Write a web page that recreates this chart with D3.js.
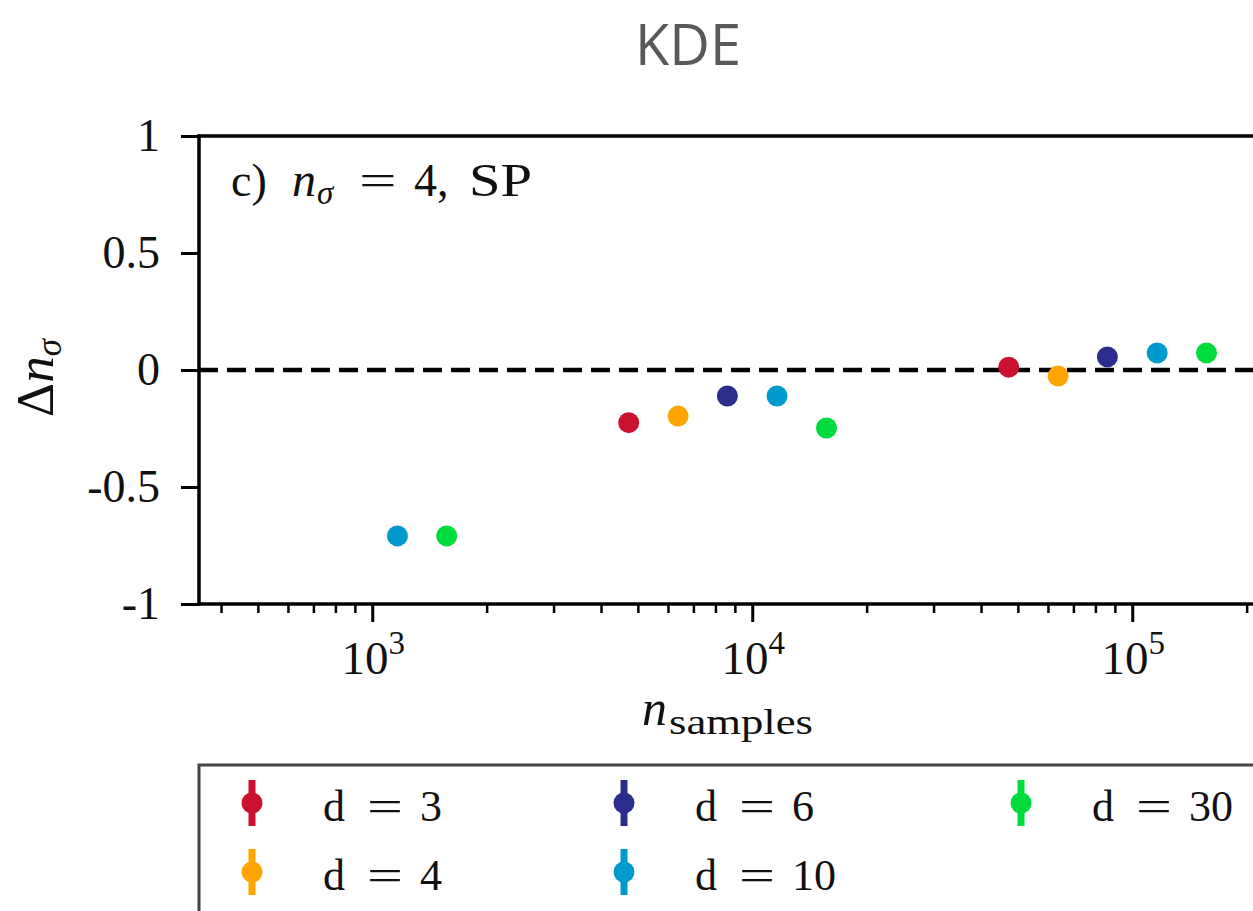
<!DOCTYPE html>
<html>
<head>
<meta charset="utf-8">
<script src="https://cdn.jsdelivr.net/npm/d3@7"></script>
<style>
  html, body { margin: 0; padding: 0; background: #fff; overflow: hidden; }
  svg { display: block; }
</style>
</head>
<body>
<script>
// ---- data ----
const dims = [3, 4, 6, 10, 30];
const seriesColors = ["#ca1230", "#ffa500", "#2b2d8c", "#009bcc", "#00dc3c"];
const samplesD3 = [4730, 47300];
const valuesD3 = [-0.225, 0.012];
const samplesD4 = [6380, 63800];
const valuesD4 = [-0.197, -0.026];
const samplesD6 = [8600, 86000];
const valuesD6 = [-0.111, 0.056];
const samplesD10 = [1165, 11620, 116300];
const valuesD10 = [-0.709, -0.111, 0.073];
const samplesD30 = [1570, 15680, 156800];
const valuesD30 = [-0.709, -0.248, 0.073];
const yTicks = [-1, -0.5, 0, 0.5, 1];
const yTickLabels = ["-1", "-0.5", "0", "0.5", "1"];
const xMajorTicks = [1e3, 1e4, 1e5];
const xMajorExps = ["3", "4", "5"];

const seriesSamples = [samplesD3, samplesD4, samplesD6, samplesD10, samplesD30];
const seriesValues = [valuesD3, valuesD4, valuesD6, valuesD10, valuesD30];

// ---- layout ----
const W = 1253, H = 911;
const plotLeft = 199, plotTop = 136, plotBottom = 604;
const serif = "'Liberation Serif', 'Times New Roman', serif";

const svg = d3.select("body").append("svg").attr("width", W).attr("height", H);

const x = d3.scaleLog().domain([350, 4e5]).range([plotLeft, plotLeft + (Math.log10(4e5) - Math.log10(350)) * 380]);
const y = d3.scaleLinear().domain([-1, 1]).range([plotBottom, plotTop]);
const plotRight = x.range()[1];

// helper: a wide, thin "=" sign like the LaTeX one
function wideEquals(parent, px, py, size, scaleX) {
  parent.append("text").attr("transform", `translate(${px},${py}) scale(${scaleX},1)`)
    .attr("font-family", serif).attr("font-size", size).attr("fill", "#111").text("=");
}

// title
svg.append("text").attr("x", 688).attr("y", 65).attr("text-anchor", "middle")
  .attr("font-family", "'Open Sans', 'Noto Sans', sans-serif").attr("font-size", 56)
  .attr("fill", "#595959").text("KDE");

// zero dashed line
svg.append("line").attr("x1", plotLeft).attr("x2", plotRight).attr("y1", y(0)).attr("y2", y(0))
  .attr("stroke", "#000").attr("stroke-width", 4.5).attr("stroke-dasharray", "19,9");

// y axis
const yAxis = d3.axisLeft(y).tickValues(yTicks).tickSize(18).tickPadding(21)
  .tickFormat((d, i) => yTickLabels[i]);
const gy = svg.append("g").attr("transform", `translate(${plotLeft},0)`).call(yAxis);
gy.select(".domain").remove();
gy.selectAll(".tick line").attr("stroke", "#000").attr("stroke-width", 3);
gy.selectAll(".tick text").attr("font-family", serif).attr("font-size", 46).attr("fill", "#111");

// x axis major
const xAxis = d3.axisBottom(x).tickValues(xMajorTicks).tickSize(18).tickFormat("");
const gx = svg.append("g").attr("transform", `translate(0,${plotBottom})`).call(xAxis);
gx.select(".domain").remove();
gx.selectAll(".tick line").attr("stroke", "#000").attr("stroke-width", 3);
// minor ticks
const minorTicks = [];
for (let e = 2; e <= 5; e++) for (let m = 2; m <= 9; m++) {
  const v = m * Math.pow(10, e);
  if (v >= x.domain()[0] && v <= x.domain()[1]) minorTicks.push(v);
}
const xMinor = d3.axisBottom(x).tickValues(minorTicks).tickSize(9).tickFormat("");
const gxm = svg.append("g").attr("transform", `translate(0,${plotBottom})`).call(xMinor);
gxm.select(".domain").remove();
gxm.selectAll(".tick line").attr("stroke", "#000").attr("stroke-width", 2.5);
// major labels with superscripts
xMajorTicks.forEach((v, i) => {
  const t = svg.append("text").attr("x", x(v) + 1).attr("y", 674).attr("text-anchor", "middle")
    .attr("font-family", serif).attr("fill", "#111");
  t.append("tspan").attr("font-size", 47).text("10");
  t.append("tspan").attr("font-size", 33).attr("dy", -20).text(xMajorExps[i]);
});

// spines
svg.append("line").attr("x1", plotLeft).attr("x2", plotLeft).attr("y1", plotTop - 1.5).attr("y2", plotBottom + 1.5)
  .attr("stroke", "#000").attr("stroke-width", 3.5);
svg.append("line").attr("x1", plotLeft - 1.5).attr("x2", plotRight).attr("y1", plotBottom).attr("y2", plotBottom)
  .attr("stroke", "#000").attr("stroke-width", 3.5);
svg.append("line").attr("x1", plotLeft - 1.5).attr("x2", plotRight).attr("y1", plotTop).attr("y2", plotTop)
  .attr("stroke", "#000").attr("stroke-width", 3.5);

// points
dims.forEach((d, si) => {
  svg.append("g").selectAll("circle")
    .data(seriesSamples[si].map((s, k) => [s, seriesValues[si][k]]))
    .join("circle")
    .attr("cx", p => x(p[0])).attr("cy", p => y(p[1])).attr("r", 10.5)
    .attr("fill", seriesColors[si]);
});

// annotation
const ax0 = 231, ay0 = 196;
const ann = svg.append("text").attr("y", ay0).attr("font-family", serif)
  .attr("font-size", 46).attr("fill", "#111");
ann.append("tspan").attr("x", ax0).text("c)");
ann.append("tspan").attr("x", ax0 + 61).attr("font-style", "italic").attr("font-size", 48).text("n");
ann.append("tspan").attr("x", ax0 + 86).attr("y", ay0 + 8).attr("font-style", "italic").attr("font-size", 33).text("σ");
ann.append("tspan").attr("x", ax0 + 183).attr("y", ay0).text("4,");
ann.append("tspan").attr("x", ax0 + 238).attr("textLength", 63).attr("lengthAdjust", "spacingAndGlyphs").text("SP");
wideEquals(svg, ax0 + 128, ay0, 46, 1.45);

// y label
const yl = svg.append("text").attr("transform", "translate(53,378) rotate(-90)")
  .attr("text-anchor", "middle").attr("font-family", serif).attr("font-size", 53).attr("fill", "#111");
yl.append("tspan").text("Δ");
yl.append("tspan").attr("font-style", "italic").text("n");
yl.append("tspan").attr("font-style", "italic").attr("font-size", 35).attr("dy", 8).text("σ");

// x label
const xl = svg.append("text").attr("y", 725).attr("font-family", serif).attr("fill", "#111");
xl.append("tspan").attr("x", 642).attr("font-style", "italic").attr("font-size", 50).text("n");
xl.append("tspan").attr("x", 669).attr("y", 734).attr("font-size", 36)
  .attr("textLength", 144).attr("lengthAdjust", "spacingAndGlyphs").text("samples");

// legend
svg.append("rect").attr("x", 199).attr("y", 765).attr("width", 1200).attr("height", 300)
  .attr("fill", "#fff").attr("stroke", "#444").attr("stroke-width", 3);
const legendCols = [252, 624, 1021];
const legendRows = [803, 872];
dims.forEach((d, si) => {
  const col = Math.floor(si / 2), row = si % 2;
  const mx = legendCols[col], my = legendRows[row];
  const g = svg.append("g");
  g.append("line").attr("x1", mx).attr("x2", mx).attr("y1", my - 23).attr("y2", my + 23)
    .attr("stroke", seriesColors[si]).attr("stroke-width", 7);
  g.append("circle").attr("cx", mx).attr("cy", my).attr("r", 10.5).attr("fill", seriesColors[si]);
  const t = g.append("text").attr("y", my + 18).attr("font-family", serif)
    .attr("font-size", 44).attr("fill", "#111");
  t.append("tspan").attr("x", mx + 71).text("d");
  t.append("tspan").attr("x", mx + 168).text(String(d));
  wideEquals(g, mx + 115, my + 18, 44, 1.45);
});
</script>
</body>
</html>
